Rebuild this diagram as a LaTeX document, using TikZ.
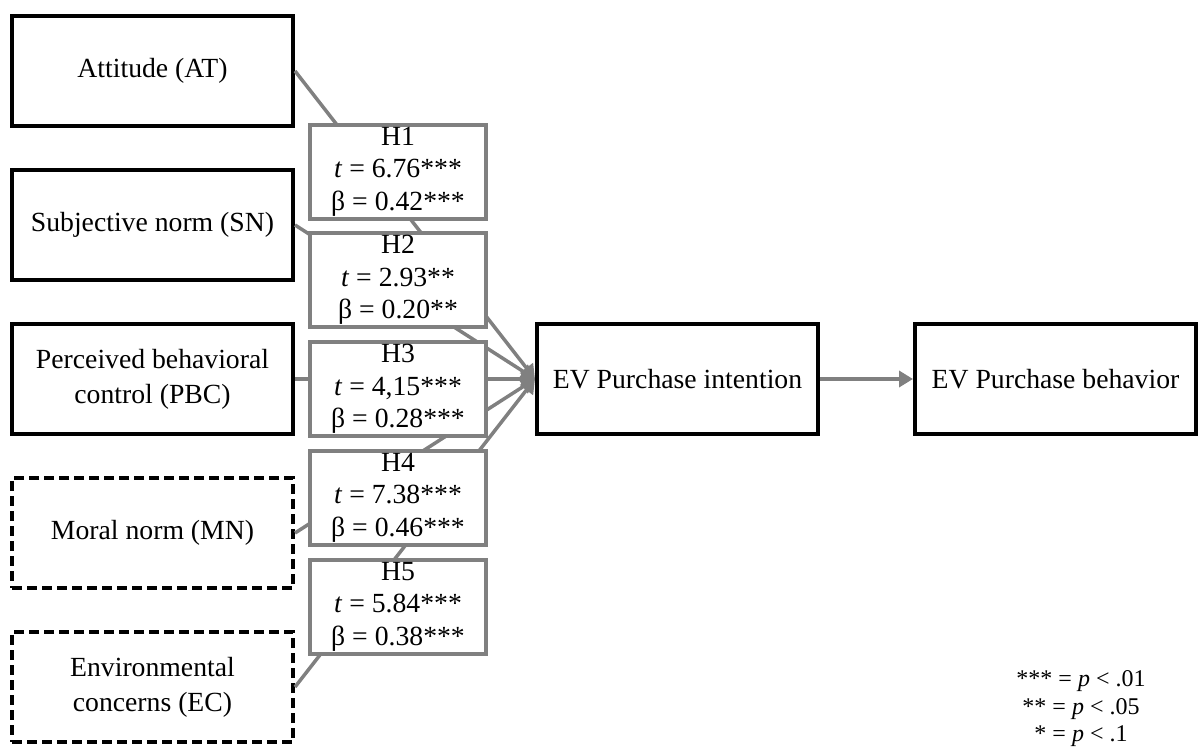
\documentclass[tikz,border=0pt]{standalone}
\usepackage{fontspec}
\setmainfont{Liberation Serif}
\usepackage{xcolor}
\usepackage{tikz}
\usetikzlibrary{arrows.meta}
\usetikzlibrary{positioning}

\definecolor{linegray}{HTML}{808080}

\begin{document}
\begin{tikzpicture}[>={Triangle[length=7pt,width=8pt]},node distance=77pt,
    main node/.style={rectangle,draw,line width=2pt,align=center,minimum width=140.5pt,minimum height=55pt,inner sep=0pt,font=\fontsize{13.85}{17.5}\selectfont},
    dashed node/.style={main node,dash pattern=on 5pt off 2.5pt},
    hyp node/.style={rectangle,draw=linegray,fill=white,line width=2pt,align=center,minimum width=88pt,minimum height=47pt,inner sep=0pt,font=\fontsize{13.85}{16.25}\selectfont}]

    \useasboundingbox (0,0) rectangle (599pt,-374.5pt);

    \node[main node] at (76.25pt,-35.5pt) (attitude) {Attitude (AT)};
    \node[main node,on grid,below=77pt of attitude] (subj-norm) {Subjective norm (SN)};
    \node[main node,on grid,below=77pt of subj-norm] (pbc) {Perceived behavioral\\control (PBC)};
    \node[dashed node,on grid,below=77pt of pbc] (moral-norm) {Moral norm (MN)};
    \node[dashed node,on grid,below=77pt of moral-norm] (env-concern) {Environmental\\concerns (EC)};
    \node[main node,on grid,right=262.5pt of pbc] (intention) {EV Purchase intention};
    \node[main node,on grid,right=189pt of intention] (behavior) {EV Purchase behavior};

    \path[every edge/.style={draw=linegray,line width=1.75pt,->}]
        (attitude.east) edge (intention.west)
        (subj-norm.east) edge (intention.west)
        (pbc.east) edge (intention.west)
        (moral-norm.east) edge (intention.west)
        (env-concern.east) edge (intention.west)
        (intention.east) edge (behavior.west);

    \node[hyp node,on grid,below right=5pt and 122.75pt of pbc] (h3) {H3\\\textit{t} = 4,15***\\β = 0.28***};
    \node[hyp node,on grid,above=54.375pt of h3] (h2) {H2\\\textit{t} = 2.93**\\β = 0.20**};
    \node[hyp node,on grid,above=54.375pt of h2] (h1) {H1\\\textit{t} = 6.76***\\β = 0.42***};
    \node[hyp node,on grid,below=54.375pt of h3] (h4) {H4\\\textit{t} = 7.38***\\β = 0.46***};
    \node[hyp node,on grid,below=54.375pt of h4] (h5) {H5\\\textit{t} = 5.84***\\β = 0.38***};

    \node[align=center,inner sep=0pt,font=\fontsize{12}{13.75}\selectfont,on grid,below right=165pt and 12.75pt of behavior] (legend)
        {*** = \textit{p} < .01\\** = \textit{p} < .05\\* = \textit{p} < .1};

\end{tikzpicture}
\end{document}
